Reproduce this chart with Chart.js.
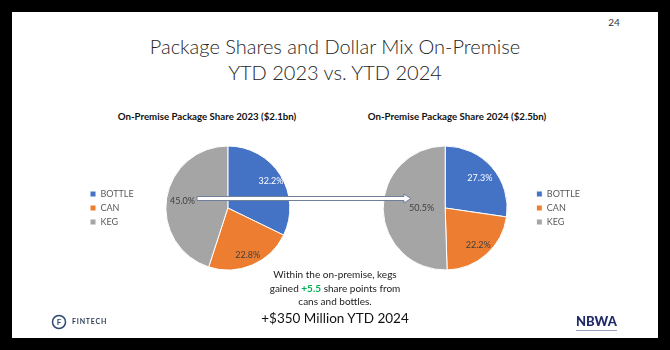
<!DOCTYPE html>
<html>
<head>
<meta charset="utf-8">
<script src="https://cdn.jsdelivr.net/npm/chart.js@4.4.1/dist/chart.umd.min.js"></script>
<style>
  html, body { margin: 0; padding: 0; background: #000; }
  body { width: 670px; height: 350px; position: relative; overflow: hidden; font-family: Lato, "Open Sans", sans-serif; }
  #slide { position: absolute; left: 12px; top: 12px; width: 646px; height: 326px; background: #fff; }
  .txt { position: absolute; white-space: nowrap; text-align: center; }
  .box { position: absolute; }
</style>
</head>
<body>
<div id="slide"></div>

<div class="txt" style="left:604px; top:16px; width:20px; font-size:10px; color:#333;">24</div>
<div class="txt" style="left:0; top:33px; width:670px; font-size:20px; line-height:26px; font-weight:300; color:#262626;">Package Shares and Dollar Mix On-Premise<br>YTD 2023 vs. YTD 2024</div>

<div class="txt" style="left:107px; top:110px; width:200px; font-size:9.7px; font-weight:bold; color:#111;">On-Premise Package Share 2023 ($2.1bn)</div>
<div class="txt" style="left:357px; top:110px; width:200px; font-size:9.7px; font-weight:bold; color:#111;">On-Premise Package Share 2024 ($2.5bn)</div>

<div class="box" style="left:85px; top:146px; width:227px; height:124px;"><canvas id="pie2023"></canvas></div>
<div class="box" style="left:359px; top:146px; width:231px; height:124px;"><canvas id="pie2024"></canvas></div>

<svg class="box" style="left:0; top:0;" width="670" height="350">
  <path d="M197,196.5 L404,196.5 L404,194 L411,198.5 L404,203 L404,200.5 L197,200.5 Z" fill="#fff" stroke="#6F7F99" stroke-width="1"/>
</svg>

<div class="txt" style="left:0; top:268px; width:670px; font-size:10px; line-height:13.5px; color:#222;">Within the on-premise, kegs<br>gained <b style="color:#00B050;">+5.5</b> share points from<br>cans and bottles.</div>
<div class="txt" style="left:0; top:308px; width:670px; font-size:13.5px; line-height:20px; color:#111;">+$350 Million YTD 2024</div>

<svg class="box" style="left:51px; top:314px;" width="16" height="16">
  <circle cx="8" cy="8" r="6.5" fill="#fff" stroke="#2F4A6E" stroke-width="1.5"/>
  <text x="8" y="11" font-size="8" font-weight="bold" text-anchor="middle" fill="#2F4A6E" font-family="Lato">F</text>
</svg>
<div class="txt" style="left:72px; top:317px; font-size:7px; font-weight:bold; letter-spacing:0.8px; color:#2F3E56;">FINTECH</div>
<div class="txt" style="left:576px; top:314px; font-size:13px; line-height:14px; font-weight:900; color:#1F2A6B;">NBWA</div>
<div class="box" style="left:576px; top:330px; width:41px; height:1px; background:#9aa0c0;"></div>

<script>
// categories and shares (percent)
const categories = ['BOTTLE', 'CAN', 'KEG'];
const share2023 = [32.2, 22.8, 45.0];
const share2024 = [27.3, 22.2, 50.5];
const sliceColors = ['#4472C4', '#ED7D31', '#A5A5A5'];

// label inside each slice
const sliceLabels = {
  id: 'sliceLabels',
  afterDatasetsDraw(chart, args, opts) {
    const ctx = chart.ctx;
    const values = chart.data.datasets[0].data;
    chart.getDatasetMeta(0).data.forEach((arc, i) => {
      const mid = (arc.startAngle + arc.endAngle) / 2;
      const r = arc.outerRadius * opts.radius[i];
      ctx.save();
      ctx.font = '9px Lato';
      ctx.fillStyle = opts.colors[i];
      ctx.textAlign = 'center';
      ctx.textBaseline = 'middle';
      ctx.fillText(values[i].toFixed(1) + '%', arc.x + Math.cos(mid) * r, arc.y + Math.sin(mid) * r);
      ctx.restore();
    });
  }
};

function makePie(id, values, legendPos, labelRadius) {
  return new Chart(document.getElementById(id), {
    type: 'pie',
    data: {
      labels: categories,
      datasets: [{
        data: values,
        backgroundColor: sliceColors,
        borderColor: '#fff',
        borderWidth: 1,
        hoverOffset: 0,
      }]
    },
    options: {
      responsive: true,
      maintainAspectRatio: false,
      animation: false,
      events: [],
      radius: 62,
      layout: { padding: 0 },
      plugins: {
        legend: {
          position: legendPos,
          labels: {
            boxWidth: 6,
            boxHeight: 6,
            padding: 5,
            color: '#595959',
            font: { family: 'Lato', size: 9 }
          }
        },
        tooltip: { enabled: false },
        sliceLabels: { radius: labelRadius, colors: ['#fff', '#404040', '#404040'] }
      }
    },
    plugins: [sliceLabels]
  });
}

makePie('pie2023', share2023, 'left', [0.82, 0.82, 0.74]);
makePie('pie2024', share2024, 'right', [0.74, 0.8, 0.38]);
</script>
</body>
</html>
